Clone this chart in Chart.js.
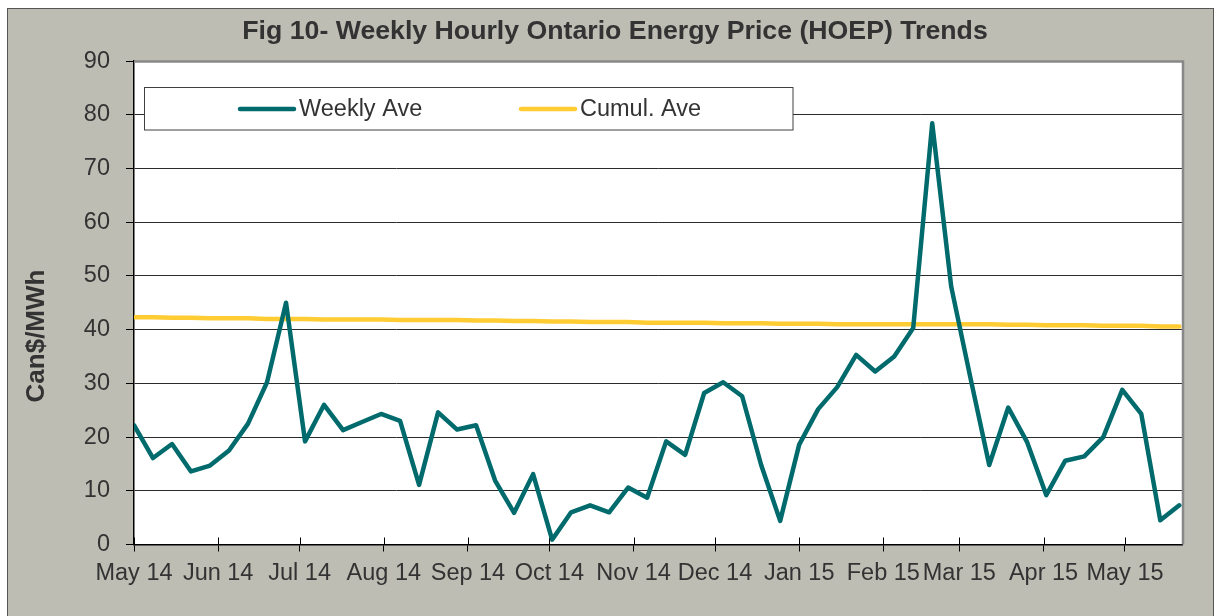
<!DOCTYPE html>
<html><head><meta charset="utf-8">
<script src="https://cdn.jsdelivr.net/npm/chart.js@4.4.1/dist/chart.umd.min.js"></script>
<style>html,body{margin:0;padding:0;background:#fff;overflow:hidden}#wrap{width:1217px;height:616px;position:relative}</style>
</head><body><div id="wrap"><canvas id="c" width="1217" height="616"></canvas></div>
<script>
const chartTitle = 'Fig 10- Weekly Hourly Ontario Energy Price (HOEP) Trends';
const yAxisTitle = 'Can$/MWh';
const seriesNames = ['Weekly Ave', 'Cumul. Ave'];
const firstWeek = '2014-05-01';
const monthStarts = ['2014-05-01','2014-06-01','2014-07-01','2014-08-01','2014-09-01','2014-10-01','2014-11-01','2014-12-01','2015-01-01','2015-02-01','2015-03-01','2015-04-01','2015-05-01'];
const monthLabels = ['May 14','Jun 14','Jul 14','Aug 14','Sep 14','Oct 14','Nov 14','Dec 14','Jan 15','Feb 15','Mar 15','Apr 15','May 15'];
const weeklyAve = [22.2,16.1,18.7,13.6,14.7,17.5,22.5,30.2,45.0,19.2,
  26.0,21.3,22.8,24.3,23.0,11.1,24.6,21.4,22.2,11.9,
  5.9,13.1,0.9,6.0,7.3,6.0,10.6,8.7,19.2,16.7,
  28.2,30.2,27.6,14.8,4.4,18.6,25.2,29.3,35.3,32.2,
  35.0,40.3,78.4,48.0,31.2,14.8,25.5,19.0,9.2,15.6,
  16.4,20.0,28.8,24.3,4.5,7.3];
const cumulAve = [42.3,42.3,42.2,42.2,42.1,42.1,42.1,42.0,42.0,
  42.0,41.9,41.9,41.9,41.9,41.8,41.8,41.8,41.8,41.7,
  41.7,41.6,41.6,41.5,41.5,41.4,41.4,41.4,41.3,41.3,
  41.3,41.3,41.2,41.2,41.2,41.1,41.1,41.1,41.0,41.0,
  41.0,41.0,41.0,41.0,41.0,41.0,41.0,40.9,40.9,40.8,
  40.8,40.8,40.7,40.7,40.7,40.6,40.6];
const yMin = 0, yMax = 90, yStep = 10;

const DAY = 86400000;
const t0 = Date.parse(firstWeek + 'T00:00:00Z');
const dayOf = s => Math.round((Date.parse(s + 'T00:00:00Z') - t0) / DAY);
const monthDays = monthStarts.map(dayOf);
const weekDays = weeklyAve.map((_, i) => i * 7);
const xMax = weekDays[weekDays.length - 1] + 1;

const FONT = "'Liberation Sans', Arial, sans-serif";
const TXT = '#333333';
const TEAL = '#006A6C';
const GOLD = '#FFCC33';

const bgPlugin = {
  id: 'bg',
  beforeDraw(chart) {
    const ctx = chart.ctx;
    ctx.save();
    ctx.fillStyle = '#ffffff';
    ctx.fillRect(0, 0, chart.width, chart.height);
    ctx.fillStyle = '#BDBDB4';
    ctx.fillRect(7, 8, 1207, chart.height - 8);
    ctx.strokeStyle = '#555555';
    ctx.lineWidth = 1;
    ctx.strokeRect(7.5, 8.5, 1206, chart.height);
    const a = chart.chartArea;
    ctx.fillStyle = '#ffffff';
    ctx.fillRect(a.left, a.top, a.right - a.left, a.bottom - a.top);
    ctx.restore();
  },
  beforeDatasetsDraw(chart) {
    const ctx = chart.ctx, a = chart.chartArea, xs = chart.scales.x;
    ctx.save();
    ctx.strokeStyle = '#888888';
    ctx.lineWidth = 2.5;
    ctx.beginPath();
    ctx.moveTo(a.left, a.top + 0.5);
    ctx.lineTo(a.right + 1, a.top + 0.5);
    ctx.lineTo(a.right + 1, a.bottom);
    ctx.stroke();
    ctx.strokeStyle = '#000';
    ctx.lineWidth = 1;
    monthDays.forEach(d => {
      const x = Math.round(xs.getPixelForValue(d)) + 0.5;
      ctx.beginPath();
      ctx.moveTo(x, a.bottom - 7);
      ctx.lineTo(x, a.bottom);
      ctx.stroke();
    });
    ctx.restore();
  },
  afterDraw(chart) {
    const ctx = chart.ctx;
    ctx.save();
    ctx.translate(37, 336);
    ctx.rotate(-Math.PI / 2);
    ctx.font = 'bold 26px ' + FONT;
    ctx.fillStyle = TXT;
    ctx.textAlign = 'center';
    ctx.textBaseline = 'middle';
    ctx.fillText(yAxisTitle, 0, 0);
    ctx.restore();
    ctx.save();
    ctx.fillStyle = '#ffffff';
    ctx.fillRect(144.5, 87.5, 648.5, 42.5);
    ctx.strokeStyle = '#404040';
    ctx.lineWidth = 1;
    ctx.strokeRect(144.5, 87.5, 648.5, 42.5);
    const items = [{x: 240, tx: 299}, {x: 521, tx: 580}];
    chart.data.datasets.forEach((ds, i) => {
      const it = items[i];
      ctx.strokeStyle = ds.borderColor;
      ctx.lineWidth = 4.5;
      ctx.lineCap = 'round';
      ctx.beginPath();
      ctx.moveTo(it.x, 109);
      ctx.lineTo(it.x + 54, 109);
      ctx.stroke();
      ctx.fillStyle = TXT;
      ctx.font = '23.5px ' + FONT;
      ctx.textAlign = 'left';
      ctx.textBaseline = 'middle';
      ctx.fillText(ds.label, it.tx, 110);
    });
    ctx.restore();
  }
};

new Chart(document.getElementById('c'), {
  type: 'line',
  data: {
    datasets: [
      { label: seriesNames[0], data: weeklyAve.map((v, i) => ({x: weekDays[i], y: v})),
        borderColor: TEAL, backgroundColor: TEAL, borderWidth: 4.5, pointRadius: 0,
        tension: 0, borderJoinStyle: 'round', borderCapStyle: 'round', fill: false },
      { label: seriesNames[1], data: cumulAve.map((v, i) => ({x: weekDays[i], y: v})),
        borderColor: GOLD, backgroundColor: GOLD, borderWidth: 4.5, pointRadius: 0,
        tension: 0, borderJoinStyle: 'round', borderCapStyle: 'round', fill: false }
    ]
  },
  options: {
    responsive: false,
    animation: false,
    devicePixelRatio: 1,
    layout: { padding: { left: 48, right: 35, top: 0, bottom: 0 } },
    plugins: {
      legend: { display: false },
      tooltip: { enabled: false },
      title: { display: true, text: chartTitle, color: TXT,
        font: { family: FONT, size: 26.7, weight: 'bold' },
        padding: { top: 16, bottom: 13 } }
    },
    scales: {
      x: {
        type: 'linear', min: 0, max: xMax,
        afterBuildTicks: s => { s.ticks = monthDays.map(v => ({ value: v })); },
        afterFit: s => { s.height = 71.5; },
        ticks: { autoSkip: false, maxRotation: 0, minRotation: 0, color: TXT,
          font: { family: FONT, size: 23.5 }, padding: 8,
          callback: v => monthLabels[monthDays.indexOf(v)] },
        grid: { drawOnChartArea: false, drawTicks: true, tickLength: 7, color: '#000', tickColor: '#000' },
        border: { display: true, color: '#000', width: 1.5 }
      },
      y: {
        min: yMin, max: yMax,
        afterFit: s => { s.width = 86; },
        ticks: { stepSize: yStep, color: TXT, font: { family: FONT, size: 23.5 }, padding: 16 },
        grid: { color: c => (c.tick.value === yMax || c.tick.value === yMin) ? 'rgba(0,0,0,0)' : '#2b2b2b',
          lineWidth: 1, drawTicks: true, tickLength: 8, tickColor: '#000' },
        border: { display: true, color: '#000', width: 1.5 }
      }
    }
  },
  plugins: [bgPlugin]
});
</script>
</body></html>
